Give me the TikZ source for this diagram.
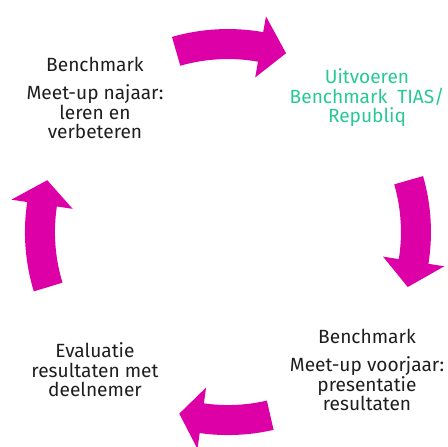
\documentclass[tikz,border=0pt]{standalone}
\usepackage{fontspec}
\setmainfont{Fira Sans}
\usepackage{tikz}
\usetikzlibrary{calc}
\definecolor{cyclepink}{RGB}{221,0,166}
\definecolor{tiasgreen}{RGB}{40,200,150}
\definecolor{steptext}{RGB}{30,30,30}
\tikzset{
    steplabel/.style={align=center,anchor=base,inner sep=0pt,text=steptext,font=\fontsize{13.6}{14.2}\selectfont}
}
\begin{document}
\begin{tikzpicture}[scale=0.025]
\useasboundingbox (0,0) rectangle (448,447);
\coordinate (c) at (228,215);
\foreach \s/\b/\t/\p in {106/80/72/top, 16/-9/-17/right, -77/-98/-105/bottom, 197/171.5/164/left}{
    \fill[cyclepink] ($(c)+(\s:203)$) arc[start angle=\s, end angle=\b, radius=203cm] -- ($(c)+(\b:219)$) -- ($(c)+(\t:188)$) coordinate (\p tip) -- ($(c)+(\b:157)$) -- ($(c)+(\b:173)$) arc[start angle=\b, end angle=\s, radius=173cm] -- cycle;
}
\node[steplabel] (najaar) at (95,308) {Benchmark\\[5.5pt]Meet-up najaar:\\leren en\\verbeteren};
\node[steplabel,text=tiasgreen] (uitvoeren) at (367,324) {Uitvoeren\\Benchmark\ \ TIAS/\\Republiq};
\node[steplabel] (voorjaar) at (367,36) {Benchmark\\[5.5pt]Meet-up voorjaar:\\presentatie\\resultaten};
\node[steplabel] (evaluatie) at (95,50) {Evaluatie\\resultaten met\\deelnemer};
\end{tikzpicture}
\end{document}
